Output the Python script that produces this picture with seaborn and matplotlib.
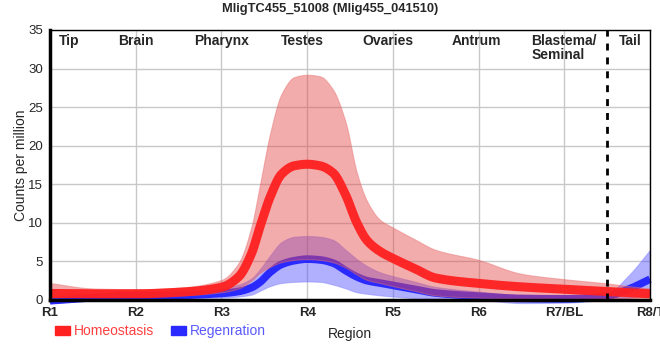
import numpy as np
import pandas as pd
import matplotlib
matplotlib.use("Agg")
import matplotlib.pyplot as plt
from matplotlib.patches import Patch
import seaborn as sns

# positions along the body (0 = R1 ... 7 = R8/T)
pos = [0, 0.5, 1, 1.5, 2, 2.2, 2.35, 2.45, 2.57, 2.7, 2.85, 3, 3.15, 3.3, 3.45,
       3.58, 3.7, 3.85, 4, 4.25, 4.5, 5, 5.5, 6, 6.5, 6.75, 7]

homeo_mean = [0.85, 0.8, 0.8, 1.0, 1.65, 3.0, 6.0, 9.5, 13.4, 16.3, 17.4, 17.6, 17.4, 16.5, 13.6,
              10.0, 7.7, 6.3, 5.4, 4.1, 2.85, 2.15, 1.7, 1.4, 1.1, 0.95, 0.8]
homeo_upper = [2.2, 1.5, 1.4, 1.6, 2.6, 4.8, 9.5, 15.0, 21.7, 26.7, 28.9, 29.2, 29.0, 27.3, 23.0,
               16.5, 12.8, 10.4, 9.4, 7.9, 6.5, 5.2, 3.4, 2.7, 2.15, 1.8, 1.5]
homeo_lower = [0.3, 0.5, 0.5, 0.6, 1.0, 1.5, 2.5, 3.5, 4.3, 4.9, 5.2, 5.3, 5.2, 4.9, 4.2,
               3.3, 2.6, 2.2, 1.8, 1.2, 0.6, 0.3, 0.2, 0.15, 0.2, 0.25, 0.3]

regen_mean = [-0.1, 0.3, 0.55, 0.6, 0.85, 1.1, 1.6, 2.3, 3.6, 4.6, 5.1, 5.3, 5.2, 4.8, 3.8,
              3.0, 2.5, 2.2, 1.9, 1.4, 0.9, 0.5, 0.2, 0.15, 0.5, 1.4, 2.7]
regen_upper = [0.3, 0.6, 0.9, 1.0, 1.5, 2.0, 2.8, 4.0, 5.8, 7.5, 8.2, 8.3, 8.2, 7.8, 6.5,
               5.3, 4.4, 3.6, 3.1, 2.4, 1.7, 1.1, 0.6, 0.4, 0.85, 3.2, 6.5]
regen_lower = [-0.4, 0.0, 0.2, 0.25, 0.3, 0.45, 0.7, 1.2, 1.8, 2.2, 2.35, 2.4, 2.35, 2.0, 1.5,
               1.0, 0.8, 0.6, 0.45, 0.25, 0.15, 0.0, -0.4, -0.35, 0.05, 0.3, 0.65]

tick_labels = ["R1", "R2", "R3", "R4", "R5", "R6", "R7/BL", "R8/T"]
regions = ["Tip", "Brain", "Pharynx", "Testes", "Ovaries", "Antrum", "Blastema/\nSeminal", "Tail"]
region_pos = [0.22, 1, 2, 2.95, 3.94, 4.97, 6, 6.77]
tail_border = 6.5

RED = "#ff2020"
BLUE = "#2a2aff"


def smooth_curve(x, y, n=12):
    # monotone cubic (Fritsch-Carlson) drawn between the read points, like a d3 monotone curve
    x = np.asarray(x, float)
    y = np.asarray(y, float)
    h = np.diff(x)
    d = np.diff(y) / h
    m = np.zeros_like(y)
    m[0], m[-1] = d[0], d[-1]
    for i in range(1, len(y) - 1):
        if d[i - 1] * d[i] > 0:
            w1 = 2 * h[i] + h[i - 1]
            w2 = h[i] + 2 * h[i - 1]
            m[i] = (w1 + w2) / (w1 / d[i - 1] + w2 / d[i])
    xs, ys = [], []
    for i in range(len(h)):
        t = np.linspace(0, 1, n, endpoint=False)
        h00 = 2 * t**3 - 3 * t**2 + 1
        h10 = t**3 - 2 * t**2 + t
        h01 = -2 * t**3 + 3 * t**2
        h11 = t**3 - t**2
        xs.append(x[i] + t * h[i])
        ys.append(h00 * y[i] + h10 * h[i] * m[i] + h01 * y[i + 1] + h11 * h[i] * m[i + 1])
    xs.append([x[-1]])
    ys.append([y[-1]])
    return np.concatenate(xs), np.concatenate(ys)


sns.set_style("whitegrid", {"grid.color": "#c8c8c8"})
plt.rcParams["font.family"] = ["Liberation Sans", "DejaVu Sans"]

xs, homeo_s = smooth_curve(pos, homeo_mean)
_, homeo_up_s = smooth_curve(pos, homeo_upper)
_, homeo_lo_s = smooth_curve(pos, homeo_lower)
_, regen_s = smooth_curve(pos, regen_mean)
_, regen_up_s = smooth_curve(pos, regen_upper)
_, regen_lo_s = smooth_curve(pos, regen_lower)

df = pd.DataFrame({"pos": xs, "homeo": homeo_s, "regen": regen_s})

fig = plt.figure(figsize=(6.6, 3.6), dpi=100)
ax = fig.add_axes([50 / 660, 60 / 360, 600 / 660, 270 / 360])

# bands and lines
ax.fill_between(xs, regen_lo_s, regen_up_s, color="#5050ff", alpha=0.45,
                lw=0.8, edgecolor="#8080ff", clip_on=False, zorder=2)
sns.lineplot(data=df, x="pos", y="regen", ax=ax, color=BLUE, lw=5.5, sort=False,
             solid_capstyle="butt", solid_joinstyle="round", clip_on=False, zorder=3)
ax.fill_between(xs, homeo_lo_s, homeo_up_s, color="#e64848", alpha=0.45,
                lw=0.8, edgecolor="#e87070", clip_on=False, zorder=4)
sns.lineplot(data=df, x="pos", y="homeo", ax=ax, color=RED, lw=6.5, alpha=0.95, sort=False,
             solid_capstyle="butt", solid_joinstyle="round", clip_on=False, zorder=5)

ax.axvline(tail_border, color="black", ls=(0, (2.5, 2.5)), lw=2, zorder=6)

ax.set_xlim(0, 7)
ax.set_ylim(0, 35)
ax.set_xticks(range(len(tick_labels)))
ax.set_xticklabels(tick_labels, fontsize=9.5, fontweight="bold")
ax.set_yticks(range(0, 36, 5))
ax.tick_params(axis="y", labelsize=9.5, length=3, width=1, pad=2)
ax.tick_params(axis="x", length=3, width=1, pad=2)
ax.grid(True, color="#c8c8c8", lw=1)

ax.set_xlabel("Region", fontsize=10, labelpad=6)
ax.set_ylabel("Counts per million", fontsize=10)
ax.yaxis.set_label_coords(-22 / 600, 0.5)

for side in ["top", "right"]:
    ax.spines[side].set_color("black")
    ax.spines[side].set_linewidth(1)
for side in ["left", "bottom"]:
    ax.spines[side].set_color("black")
    ax.spines[side].set_linewidth(2.5)
for s in ax.spines.values():
    s.set_zorder(7)

trans = ax.get_xaxis_transform()
for label, x in zip(regions, region_pos):
    ax.text(x, 0.985, label, transform=trans, ha="center", va="top",
            fontsize=10, fontweight="bold", multialignment="left", linespacing=1.0)

fig.suptitle("MligTC455_51008 (Mlig455_041510)", fontsize=9.3, fontweight="bold", y=0.993)

handles = [Patch(color=RED, label="Homeostasis"), Patch(color=BLUE, label="Regenration")]
ax.legend(handles=handles, loc="upper left", bbox_to_anchor=(0.009, -0.09), ncol=2,
          frameon=False, fontsize=10, handlelength=1.05, handleheight=0.6,
          handletextpad=0.3, columnspacing=1.2, labelcolor=["#ff4040", "#5a5aff"],
          borderaxespad=0, borderpad=0)

fig.savefig("out.png", dpi=100)
